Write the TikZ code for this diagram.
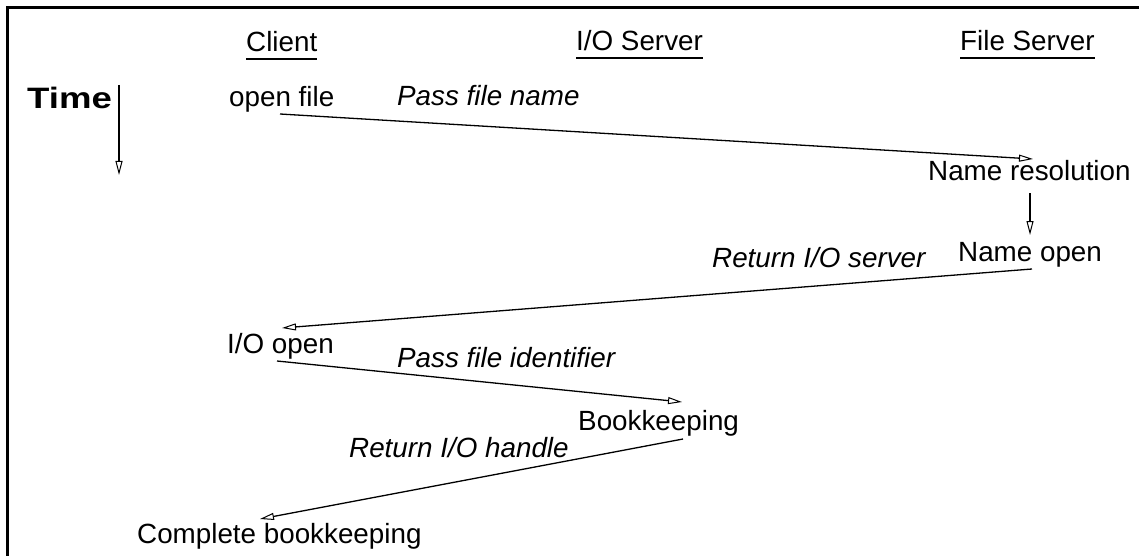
\documentclass[tikz,border=0pt]{standalone}
\usepackage{fontspec}
\setmainfont{Liberation Sans}
\usetikzlibrary{arrows.meta,calc}
\tikzset{
  txt/.style={inner sep=0pt, anchor=base west, font=\fontsize{27.8}{30}\selectfont},
  lbl/.style={txt, font=\fontsize{27.8}{30}\selectfont\itshape},
  msg/.style={line width=1.3pt, -{Triangle[open, length=14pt, width=7pt, line width=1pt]}},
  uline/.style={line width=2.2pt},
  frame/.style={line width=3pt}
}
\begin{document}
\begin{tikzpicture}[x=1pt,y=-1pt]
\useasboundingbox (0,0) rectangle (1139,556);
\draw[frame] (7.5,556) -- (7.5,7.5) -- (1139,7.5);
% headers
\node[txt] (client) at (246,52) {Client};
\node[txt] (ioserver) at (576,51) {I/O Server};
\node[txt] (fileserver) at (960,51) {File Server};
\foreach \n in {client,ioserver,fileserver}
  \draw[uline] ($(\n.base west)+(0,7)$) -- ($(\n.base east)+(0,7)$);
% time
\node[txt, font=\fontsize{29.5}{30}\selectfont\bfseries] (time) at (27,109) {\scalebox{1.24}[1]{Time}};
\draw[msg] ($(time.base west)+(92,-24)$) -- ($(time.base west)+(92,66)$);
% events
\node[txt] (openfile) at (229,107) {open file};
\node[txt] (nameres) at (928,181) {Name resolution};
\node[txt] (nameopen) at (958,261) {Name open};
\node[txt] (ioopen) at (227,353) {I/O open};
\node[txt] (book) at (578,430) {Bookkeeping};
\node[txt] (complete) at (137,543) {Complete bookkeeping};
% labels
\node[lbl] (l1) at (397,106) {Pass file name};
\node[lbl] (l2) at (712,267) {Return I/O server};
\node[lbl] (l3) at (397,367) {Pass file identifier};
\node[lbl] (l4) at (349,457) {Return I/O handle};
% arrows
\draw[msg] ($(openfile.base west)+(51,7)$) -- ($(nameres.base west)+(105,-22)$);
\draw[msg] ($(nameres.base west)+(102,12)$) -- ($(nameopen.base west)+(72,-26)$);
\draw[msg] ($(nameopen.base west)+(74,8)$) -- ($(ioopen.base west)+(55,-25)$);
\draw[msg] ($(ioopen.base west)+(50,8)$) -- ($(book.base west)+(104,-28)$);
\draw[msg] ($(book.base west)+(105,9)$) -- ($(complete.base west)+(123,-24)$);
\end{tikzpicture}
\end{document}
